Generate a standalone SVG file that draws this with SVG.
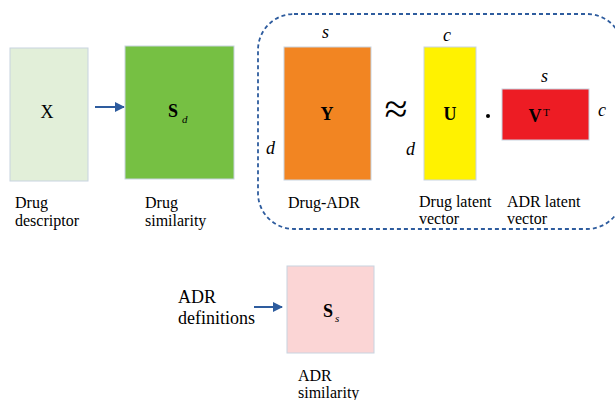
<svg xmlns="http://www.w3.org/2000/svg" width="615" height="400" viewBox="0 0 615 400" font-family="'Liberation Serif', serif">
<defs>
<style>
.lbl{font-size:16px}
.big{font-size:18px}
.var{font-size:18px;font-style:italic}
.m{font-size:18px;font-weight:bold;text-anchor:middle}
.sub{font-size:11px;font-style:italic}
.edge{stroke:#2e5c9e;stroke-width:2;fill:none}
.box{stroke:#c8d3e0;stroke-width:1}
</style>
<marker id="ah" viewBox="0 0 10 10" refX="9" refY="5" markerWidth="5" markerHeight="5" orient="auto" markerUnits="strokeWidth">
<path d="M0,0 L10,5 L0,10 z" fill="#2e5c9e"/>
</marker>
</defs>
<rect width="615" height="400" fill="#fff"/>
<g id="connectors">
<line class="edge" x1="95" y1="107" x2="124" y2="107" marker-end="url(#ah)"/>
<line class="edge" x1="254" y1="307" x2="282" y2="307" marker-end="url(#ah)"/>
</g>
<g id="group-mf">
<rect x="258" y="14" width="365" height="215" rx="36" ry="36" fill="none" stroke="#2e5c9e" stroke-width="1.8" stroke-dasharray="4,3"/>
</g>
<g id="node-X">
<rect class="box" x="10" y="48" width="78" height="133" fill="#e2efd9"/>
<text x="47" y="118" class="big" text-anchor="middle">X</text>
<text x="15" y="208" class="lbl">Drug</text>
<text x="15" y="226" class="lbl">descriptor</text>
</g>
<g id="node-Sd">
<rect class="box" x="125" y="46" width="109" height="133" fill="#76c043"/>
<text x="173" y="117" class="m">S</text>
<text x="182" y="123" class="sub">d</text>
<text x="145" y="208" class="lbl">Drug</text>
<text x="145" y="226" class="lbl">similarity</text>
</g>
<g id="node-Y">
<rect class="box" x="284" y="47" width="87" height="133" fill="#f28522"/>
<text x="327" y="120" class="m">Y</text>
<text x="322" y="38" class="var">s</text>
<text x="266" y="154" class="var">d</text>
<text x="288" y="208" class="lbl">Drug-ADR</text>
</g>
<text x="396" y="123" font-size="42" text-anchor="middle">≈</text>
<g id="node-U">
<rect class="box" x="424" y="47" width="52" height="133" fill="#fff200"/>
<text x="450" y="120" class="m">U</text>
<text x="443" y="41" class="var">c</text>
<text x="406" y="155" class="var">d</text>
<text x="419" y="207" class="lbl">Drug latent</text>
<text x="419" y="224" class="lbl">vector</text>
</g>
<circle cx="488" cy="116" r="2" fill="#000"/>
<g id="node-V">
<rect class="box" x="502" y="89" width="87" height="51" fill="#ed1c24"/>
<text x="535" y="122" class="m">V</text>
<text x="543" y="116" font-size="11">T</text>
<text x="541" y="82" class="var">s</text>
<text x="598" y="116" class="var">c</text>
<text x="507" y="207" class="lbl">ADR latent</text>
<text x="507" y="224" class="lbl">vector</text>
</g>
<g id="node-Ss">
<rect class="box" x="287" y="266" width="87" height="87" fill="#fbd5d5"/>
<text x="328" y="317" class="m">S</text>
<text x="335" y="322" class="sub" font-size="9">s</text>
<text x="298" y="381" class="lbl">ADR</text>
<text x="298" y="398" class="lbl">similarity</text>
</g>
<g id="node-def">
<text x="178" y="303" class="big">ADR</text>
<text x="178" y="324" class="big">definitions</text>
</g>
</svg>
